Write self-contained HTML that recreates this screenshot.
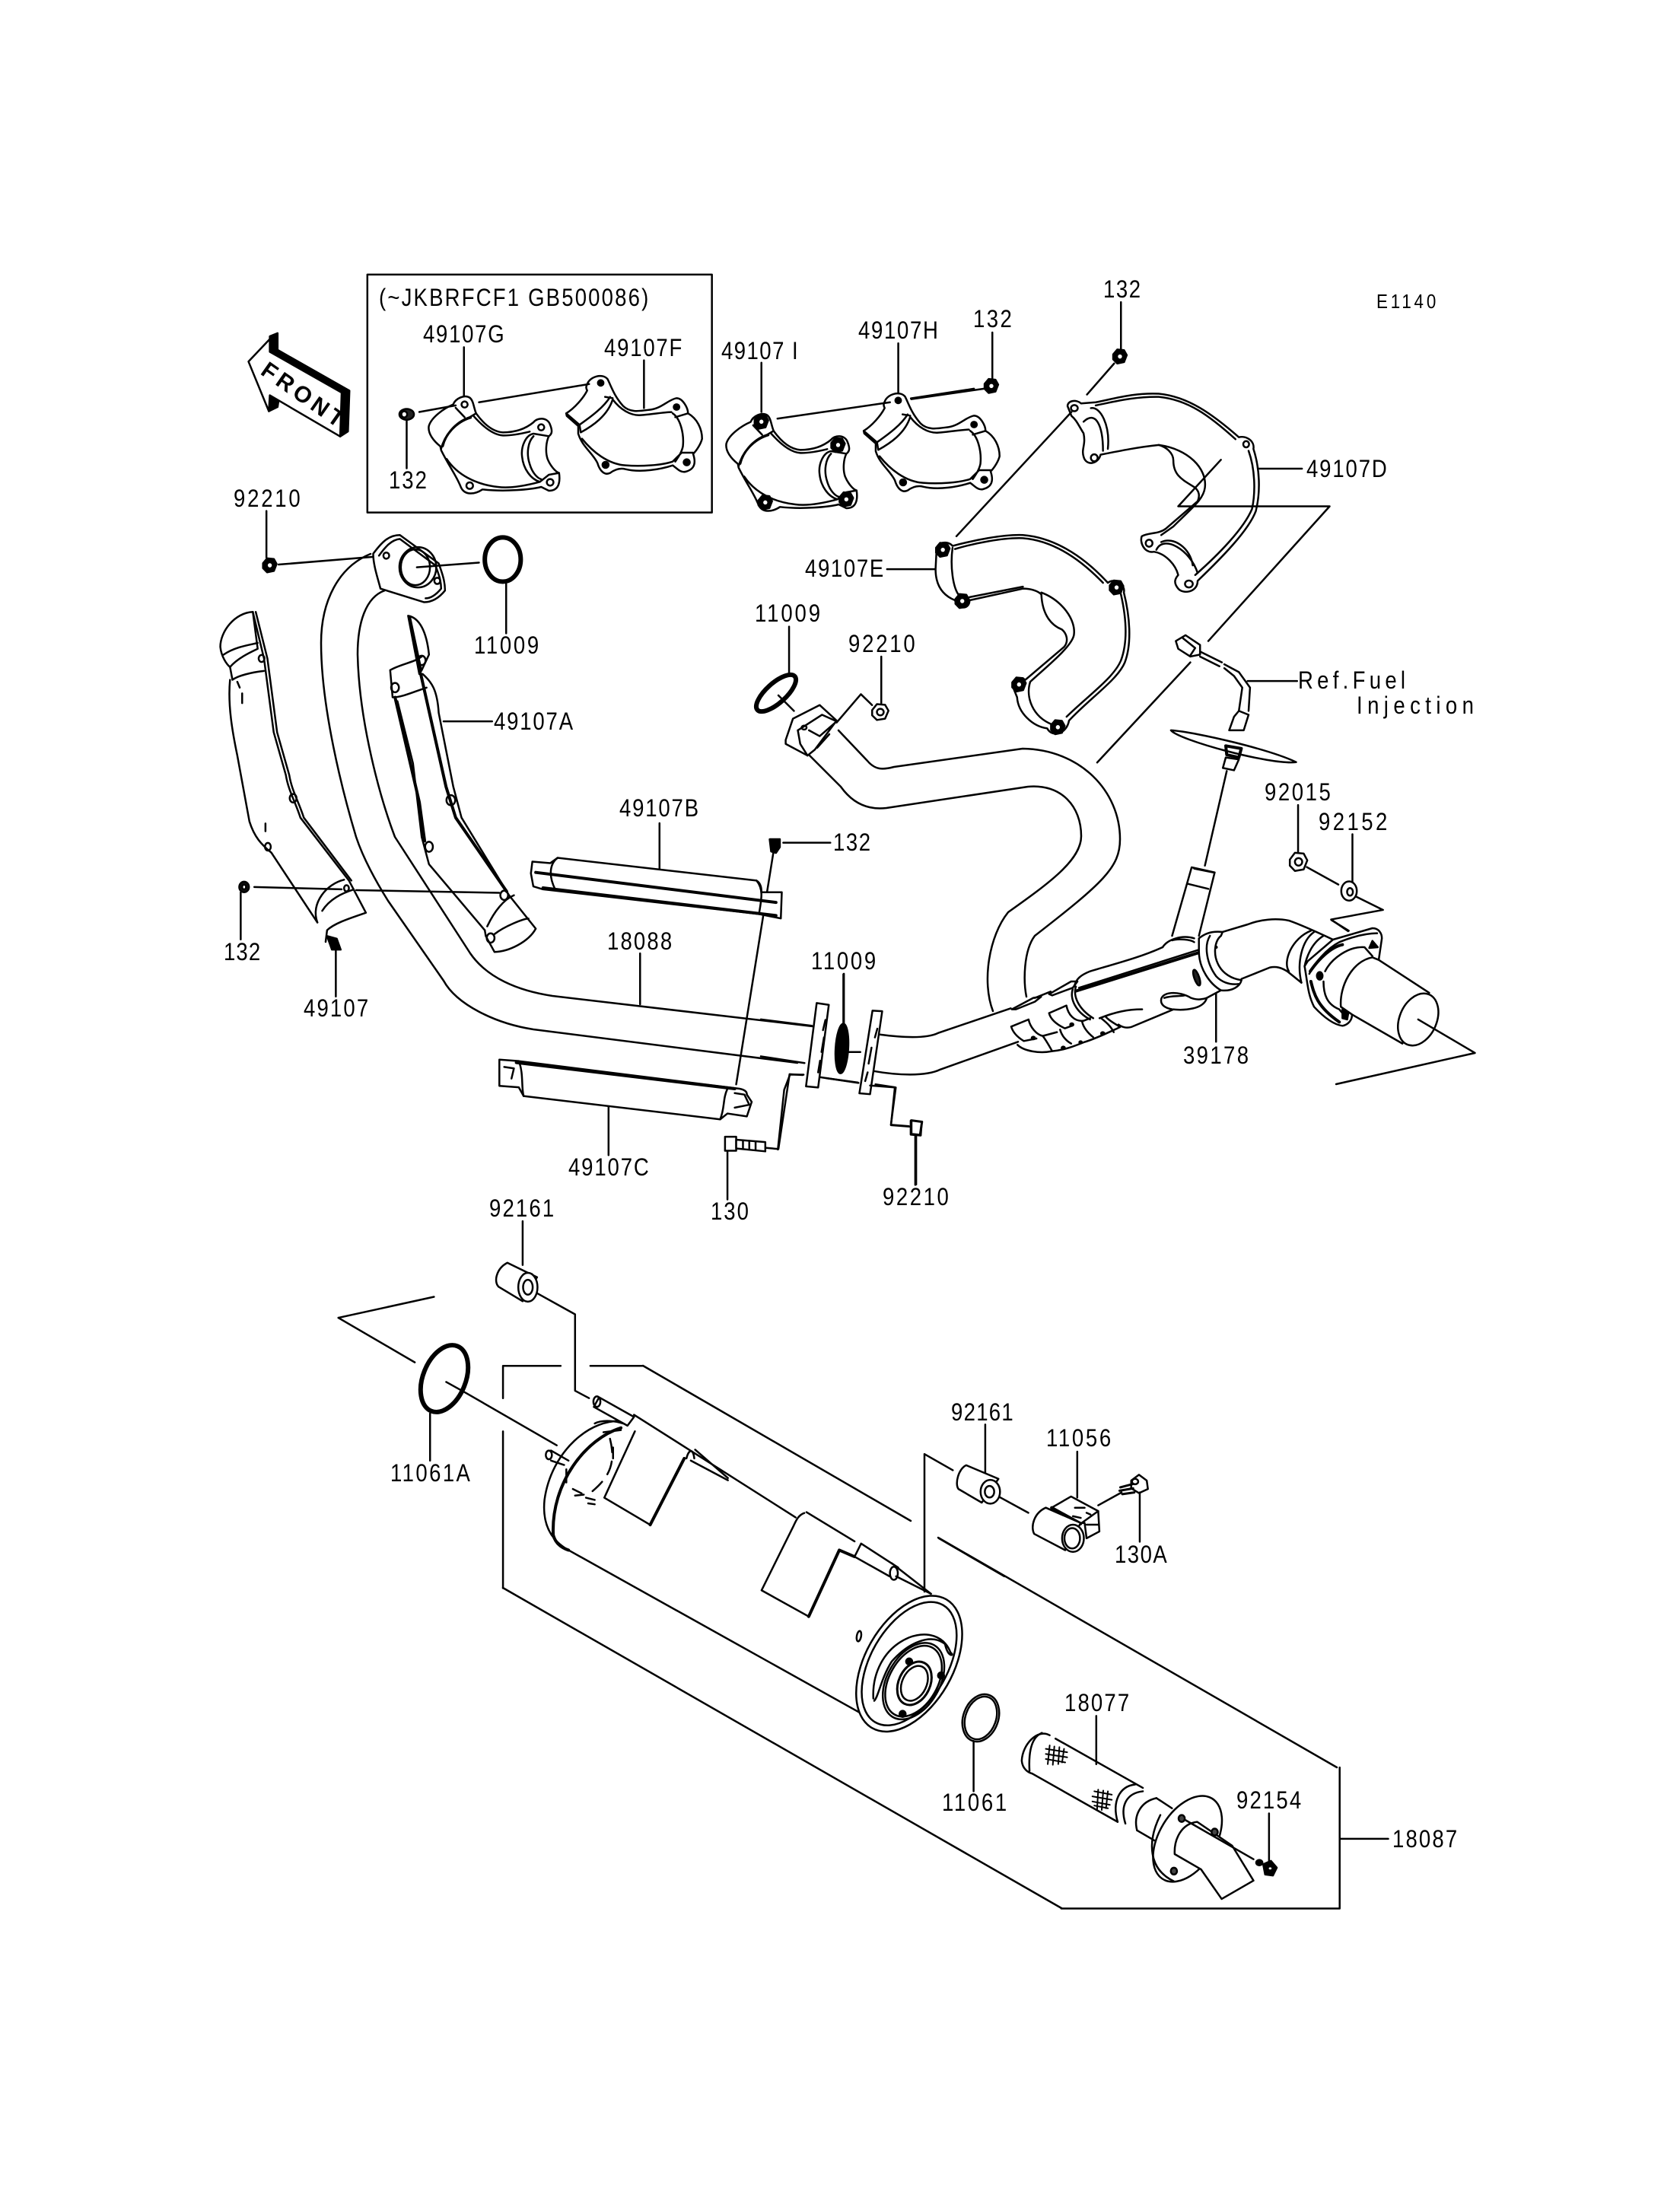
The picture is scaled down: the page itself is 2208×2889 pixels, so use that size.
<!DOCTYPE html>
<html><head><meta charset="utf-8"><title>Exhaust parts diagram</title>
<style>
html,body{margin:0;padding:0;background:#fff}
svg{display:block}
.l *,defs *{vector-effect:non-scaling-stroke}
.l{fill:none;stroke:#000;stroke-width:2.5;stroke-linejoin:round;stroke-linecap:round}
.w{fill:#fff}
.k{fill:#000}
.t{stroke-width:4}
text{font-family:"Liberation Sans",sans-serif;font-size:32px;fill:#000;stroke:none;transform-box:fill-box;transform-origin:0 0;transform:scaleX(.86)}
text.f{transform-box:view-box;transform-origin:0 0;transform:translate(341px,491px) rotate(35deg)}
</style></head><body>
<svg xmlns="http://www.w3.org/2000/svg" width="2208" height="2889" viewBox="0 0 2208 2889">
<defs>
<g id="shG"><path d="M225,155C235,130 270,115 290,128C305,140 305,165 315,190C340,225 375,262 420,265C470,265 510,250 540,225C555,205 595,205 605,235C615,260 612,272 600,280C590,300 585,340 595,370C605,395 625,420 640,425C645,460 640,495 600,495L570,480C530,490 430,500 340,490C310,510 270,515 255,480C240,440 210,400 178,335L175,320C150,300 125,270 130,240C140,205 190,170 225,155Z"/>
<path d="M178,330C190,280 230,225 290,205M185,320C195,275 235,225 295,207M290,205L315,190M235,168L270,205M600,280L540,270C510,275 490,320 495,360C500,410 530,450 565,460M540,280C520,300 510,345 525,390C535,425 555,445 570,450M565,460L600,432L640,425M200,370C240,430 310,470 400,480C450,487 510,475 565,460M305,200C340,240 380,275 420,277C460,278 500,268 525,262"/>
<circle cx="270" cy="155" r="12"/><circle cx="570" cy="245" r="12"/><circle cx="605" cy="462" r="13"/><circle cx="290" cy="475" r="13"/></g>
<g id="shF"><path d="M750,75C760,45 810,30 830,55C845,85 855,120 890,160C920,190 960,180 1000,175C1040,170 1070,135 1100,130C1125,130 1145,170 1145,190C1180,210 1200,250 1200,290C1195,310 1180,335 1165,350C1175,380 1175,410 1135,420C1115,425 1100,405 1085,395C1040,410 960,425 900,410C880,405 860,410 840,425C820,435 800,420 790,385C770,345 730,320 715,270L715,240L670,200L668,190C700,170 735,130 750,100C745,90 745,85 750,75Z"/>
<path d="M668,190L720,235C770,200 815,165 840,125M725,265C770,240 830,200 850,135M720,235L725,265M820,125L850,130M850,135C880,175 920,200 960,197C1000,195 1050,185 1080,185M730,290C770,340 830,390 900,395C960,400 1040,395 1085,380L1120,345L1165,345M1085,190C1115,210 1130,270 1125,320C1120,345 1105,365 1095,380M1095,205L1145,190"/>
<circle cx="803" cy="70" r="11" fill="#000"/><circle cx="1100" cy="165" r="11" fill="#000"/><circle cx="1140" cy="383" r="12" fill="#000"/><circle cx="822" cy="393" r="12" fill="#000"/></g>
<g id="nut"><path class="k" d="M-10,-3L-4,-10L6,-9L10,-2L6,8L-4,10L-10,4Z"/><circle r="3" fill="#fff" stroke="none"/></g>
<g id="nw"><path class="w" d="M-12,-3L-5,-12L7,-11L12,-2L7,10L-5,12L-12,5Z"/><circle r="5"/></g>
</defs>

<g class="l">
<!-- long pipes in page coordinates -->
<path d="M487,728C445,745 422,790 422,845C422,930 450,1040 468,1100C478,1130 495,1160 510,1184L583,1289C600,1320 650,1345 701,1353L1048,1397"/>
<path d="M506,776C480,785 470,820 470,860C472,950 500,1050 519,1100L618,1253C640,1285 680,1302 726,1309L1068,1349"/>
<path d="M1102,960L1140,1000C1150,1012 1160,1012 1175,1008L1344,984C1420,985 1472,1040 1472,1103C1472,1140 1450,1160 1360,1230C1345,1250 1345,1290 1349,1310"/>
<path d="M1064,993L1105,1034C1120,1055 1140,1065 1165,1062L1351,1034C1395,1030 1421,1060 1421,1099C1421,1130 1380,1160 1325,1199C1300,1230 1290,1290 1305,1329"/>
<path d="M661,2087L1395,2508M845,1795L1197,1999M1233,2021L1757,2323"/>
<!-- rings -->
<ellipse cx="1020" cy="911" rx="33" ry="13" transform="rotate(-42 1020 911)" style="stroke-width:6"/>
<ellipse cx="584" cy="1812" rx="28" ry="46" transform="rotate(22 584 1812)" style="stroke-width:6"/>
<ellipse cx="1289" cy="2258" rx="23" ry="32" transform="rotate(20 1289 2258)"/>
<ellipse cx="1289" cy="2258" rx="20" ry="29" transform="rotate(20 1289 2258)"/>
<!-- inset-style shields -->
<g transform="translate(520,480) scale(.3356,.3333)"><use href="#shG"/><use href="#shF"/></g>
<g transform="translate(911,503) scale(.3356,.3333)"><use href="#shG"/><use href="#shF"/></g>
</g>

<!-- Z1 -->
<g class="l" transform="translate(280,340) scale(.6378,.5102)">
<rect x="318" y="41" width="710" height="613"/>
<path class="k" d="M117,200L133,192L133,235L281,340L278,445L262,458L265,345L117,240Z"/>
<path class="k" d="M117,352L135,365L133,382L115,393Z"/>
<path class="w" d="M73,265L117,207L117,240L265,345L262,458L117,352L115,393Z"/>
<path d="M517,228V352M888,262V385M548,370L775,323M425,395L500,378M399,418V540"/>
<ellipse cx="399" cy="401" rx="15" ry="14" fill="#222"/><ellipse cx="394" cy="401" rx="6" ry="8" fill="#fff"/>
<path d="M1130,268V395M1412,218V345M1163,412L1395,370M1438,360L1568,335"/>
<g transform="translate(1130,420) scale(1.4,1.8)"><use href="#nut"/></g>
<g transform="translate(1288,480) scale(1.4,1.8)"><use href="#nut"/></g>
<g transform="translate(1305,620) scale(1.4,1.8)"><use href="#nut"/></g>
<g transform="translate(1138,628) scale(1.4,1.8)"><use href="#nut"/></g>
<!-- flange and ring -->
<path class="w" d="M330,760C345,735 360,712 385,712L465,785C472,810 478,830 478,855C465,875 450,885 435,885L345,850C340,825 330,790 330,760Z"/>
<path d="M342,765C355,742 368,724 385,722L458,790C465,812 470,830 470,850C460,865 450,875 438,875"/>
<ellipse cx="422" cy="795" rx="38" ry="52"/><ellipse cx="417" cy="795" rx="30" ry="46"/>
<ellipse cx="357" cy="765" rx="6" ry="8"/><ellipse cx="462" cy="830" rx="6" ry="8"/>
<path d="M110,650V770M135,788L330,768M420,795L548,783M604,838V965"/>
<g transform="translate(117,790) scale(1.4,1.8)"><use href="#nut"/></g>
<ellipse cx="597" cy="775" rx="37" ry="57" style="stroke-width:6"/>
<!-- left shield -->
<path d="M82,910C45,912 15,960 15,1000C17,1025 28,1045 35,1052C50,1030 75,1015 92,1005L82,910"/>
<path d="M35,1052L40,1085C50,1075 80,1065 105,1062M22,1020C45,1000 75,995 92,990"/>
<path d="M35,1085C30,1150 40,1220 50,1280L75,1450C85,1490 100,1510 120,1530L215,1710"/>
<path d="M82,910L105,1030L125,1220L150,1330C155,1370 170,1400 180,1440L280,1602L315,1685C280,1700 250,1712 235,1730L232,1760"/>
<path d="M88,910L112,1030L132,1220L157,1330C162,1370 177,1400 187,1440L285,1602"/>
<path d="M215,1710C200,1660 235,1610 270,1600M225,1680C240,1650 265,1635 290,1625"/>
<path class="k" d="M235,1745L255,1752L263,1780L245,1780Z"/>
<ellipse cx="100" cy="1030" rx="6" ry="9"/><ellipse cx="165" cy="1390" rx="7" ry="11"/><ellipse cx="113" cy="1515" rx="6" ry="10"/><ellipse cx="275" cy="1622" rx="5" ry="8"/>
<path d="M60,1120V1145M50,1090L55,1105M108,1455V1475"/>
<!-- shield A -->
<path d="M402,920C425,925 440,960 445,1020L430,1060L425,1070L402,920"/>
<path d="M365,1060C385,1045 415,1040 430,1025M365,1060L370,1130C390,1130 415,1115 440,1105"/>
<path d="M380,1140L412,1300L430,1490L445,1560L560,1730"/>
<path d="M432,1070C450,1090 462,1110 465,1170L495,1360L512,1440L610,1640L665,1726C650,1760 610,1785 580,1786L562,1745L560,1730"/>
<path class="t" d="M428,1070L480,1360L500,1440L605,1630M375,1130L425,1400L436,1500M405,925L428,1060"/>
<path d="M565,1720C580,1680 600,1650 620,1640M580,1740C600,1720 640,1700 650,1700"/>
<ellipse cx="430" cy="1035" rx="8" ry="12"/><ellipse cx="375" cy="1105" rx="8" ry="12"/><ellipse cx="490" cy="1395" rx="9" ry="13"/><ellipse cx="445" cy="1515" rx="8" ry="13"/><ellipse cx="600" cy="1640" rx="8" ry="12"/><ellipse cx="572" cy="1750" rx="8" ry="12"/>
<path d="M475,1192H575"/>
<!-- connector -->
<path class="w" d="M1180,1240L1195,1185L1250,1150L1285,1190L1240,1265L1225,1280L1180,1250Z"/>
<path d="M1205,1215L1255,1175L1285,1192L1250,1230L1228,1215M1205,1215L1210,1250L1225,1280M1245,1260L1270,1225"/>
<circle cx="1218" cy="1208" r="5"/>
<path d="M1187,948V1070M1165,1125L1197,1165M1285,1195L1335,1122L1358,1150M1377,1025V1145"/>
<g transform="translate(1375,1168) scale(1.4,1.7)"><use href="#nw"/></g>
</g>

<!-- Z2 -->
<g class="l" transform="translate(1000,340) scale(.6378,.5102)">
<path d="M742,112V235M728,270L672,350M640,395L403,715M1115,541H1025M260,800H358M477,190V315M948,518L860,638H1172L922,985M885,1040L693,1298"/>
<g transform="translate(740,252) scale(1.4,1.8)"><use href="#nut"/></g>
<g transform="translate(475,328) scale(1.4,1.8)"><use href="#nut"/></g>
<path d="M310,362L460,335"/>
<!-- shield D -->
<path d="M632,380C632,365 650,362 660,373L690,370C730,360 770,345 820,348C880,355 930,400 985,460C1000,455 1018,470 1015,490C1028,540 1030,600 1020,650C1005,700 950,770 900,830C900,860 870,865 860,850C850,835 853,825 860,815C855,790 835,760 810,755C790,760 780,730 785,715C800,705 820,710 835,695L900,625C905,610 903,600 895,590C870,570 850,560 850,520C850,500 835,485 820,480C780,485 740,495 700,505C695,530 670,535 665,510C660,490 670,480 665,450C655,430 650,415 640,405Z"/>
<path d="M690,378C730,368 770,355 820,356C880,363 925,405 978,465M1005,495C1018,540 1020,600 1012,645C995,695 945,760 895,815M680,385C700,380 720,430 715,490M665,420C690,390 705,430 705,495M815,750C830,710 885,750 900,810M825,730C850,715 885,745 890,790M820,480C880,490 920,540 915,590C912,620 890,640 850,690L825,712"/>
<ellipse cx="646" cy="385" rx="7" ry="8"/><ellipse cx="1000" cy="478" rx="6" ry="8"/><ellipse cx="687" cy="513" rx="7" ry="9"/><ellipse cx="800" cy="733" rx="7" ry="9"/><ellipse cx="882" cy="838" rx="8" ry="9"/>
<!-- shield E -->
<path d="M362,750C362,730 385,725 395,740C440,725 500,710 540,712C600,718 660,760 715,835C730,820 752,840 748,860C760,920 765,990 750,1040C735,1085 680,1130 635,1190C630,1225 600,1235 590,1210C560,1205 530,1170 528,1130L520,1105C520,1085 535,1075 545,1085L625,1000C635,985 630,965 620,955C600,945 580,920 578,865C570,855 555,850 540,850L430,880C430,905 405,905 400,880C370,865 360,835 360,800Z"/>
<path d="M395,745C390,790 395,850 410,870M578,860C620,880 650,930 645,970C640,1000 590,1050 555,1090C545,1130 560,1180 600,1200M400,748C440,733 500,718 540,720C600,726 655,770 705,835M742,865C752,920 757,985 742,1035C727,1080 675,1125 630,1180M430,872L540,845"/>
<g transform="translate(375,750) scale(1.4,1.8)"><use href="#nut"/></g>
<g transform="translate(415,882) scale(1.4,1.8)"><use href="#nut"/></g>
<g transform="translate(733,847) scale(1.4,1.8)"><use href="#nut"/></g>
<g transform="translate(532,1097) scale(1.4,1.8)"><use href="#nut"/></g>
<g transform="translate(612,1207) scale(1.4,1.8)"><use href="#nut"/></g>
<!-- sensor -->
<path class="w" d="M855,985L875,970L905,995L905,1020L885,1025L860,1005Z"/>
<path d="M870,978L895,1003L885,1022M905,1012L950,1040M905,1025L945,1050M955,1045L985,1065L1008,1105L1005,1165M955,1055L975,1075L992,1105L985,1165M985,1165L1005,1175L995,1215L965,1215L975,1180L985,1165M1003,1088H1105"/>
<path class="w" d="M845,1215C900,1220 1050,1265 1103,1297C1050,1305 860,1240 845,1215Z"/>
<path class="t" d="M958,1255L990,1262L985,1285L960,1278Z"/>
<path class="w" d="M958,1285L985,1290L975,1318L952,1312Z"/>
</g>

<!-- Z3 -->
<g class="l" transform="translate(280,1100) scale(.6378,.3827)">
<path d="M920,-47V110M880,400V575M1300,470V640M815,925V1093M253,380V548M57,190V352M85,172L265,180M295,183L590,192M1155,50L1078,850M1175,20H1272"/>
<ellipse cx="64" cy="172" rx="10" ry="18" fill="#111"/><ellipse cx="64" cy="172" rx="4" ry="8" fill="#fff"/>
<path class="k" d="M1147,8H1168V35L1160,55L1150,50Z"/>
<!-- 49107B -->
<path class="w" d="M658,85L695,90L710,72L1120,150C1130,160 1130,180 1130,190L1172,190L1170,280L1125,265L680,180L660,170L655,125Z"/>
<path d="M710,72C695,90 690,130 705,180M1120,150C1135,180 1130,215 1125,265"/>
<path class="t" d="M665,122L1160,225M680,175L1160,270"/>
<!-- 49107C -->
<path class="w" d="M590,765L630,770L1085,865C1100,870 1100,880 1100,885L1110,910L1100,960L1060,950L1045,970L640,890L630,860L590,855Z"/>
<path class="t" d="M625,775L1075,865"/>
<path d="M630,770C640,810 635,860 640,890M1060,865C1050,900 1055,930 1045,970M600,790L620,795L615,830M1075,880L1095,885L1105,920L1075,930"/>
<!-- bolt -->
<path class="w" d="M1055,1030H1078V1078H1055Z"/>
<path class="w" d="M1078,1040L1138,1048V1080L1078,1070Z"/>
<path d="M1092,1042V1072M1105,1044V1074M1118,1046V1076"/>
<path d="M1215,818L1188,815L1165,1072L1140,1068M1250,825L1330,845M1365,850L1405,860L1397,990L1435,995M1447,1025V1195M1060,1080V1245M638,1320V1470"/>
<path class="w" d="M1438,975L1460,980L1458,1025L1438,1022Z" style="stroke-width:3"/>
</g>

<!-- Z4 -->
<g class="l" transform="translate(1000,1000) scale(.6378,.3827)">
<path d="M0,888L105,910M0,1015L90,1038M245,940C290,950 340,955 365,935L515,850M230,1065C280,1080 340,1085 370,1060L530,965M135,1090L200,1105M178,1000H205"/>
<path class="w" d="M115,832L140,838L118,1122L93,1118Z"/>
<path class="w" d="M230,858L250,860L225,1145L203,1142Z"/>
<path d="M133,890L128,925M130,950L125,1000M122,1030L118,1070M240,920L235,950M228,985L222,1040M220,1070L215,1100"/>
<ellipse cx="167" cy="988" rx="13" ry="85" class="k" transform="rotate(2 167 988)"/>
<path d="M35,1335L48,1130L60,1078H88M225,1115L278,1122L268,1250L305,1255M320,1290V1455"/>
<path class="w" d="M310,1235L332,1240L328,1285L310,1282Z" style="stroke-width:3"/>
<path d="M170,733V905M938,800V965M1107,152V320M1219,252V415M1125,365L1190,425M1225,465L1282,512L1175,545L1210,585M960,35L915,360"/>
<!-- washers -->
<g transform="translate(1108,347) scale(1.5,2.6)"><use href="#nw"/></g>
<ellipse cx="1212" cy="447" rx="16" ry="33" class="w"/><ellipse cx="1214" cy="450" rx="6" ry="13"/>
</g>

<!-- Z7: collector / 39178 -->
<g class="l" transform="translate(1300,1130) scale(.4146,.3333)">
<path d="M642,30L715,50L665,300M642,30L580,300"/>
<path d="M650,35L710,50M630,95L695,115M550,345C565,315 610,295 650,310M580,318C600,310 640,315 650,325"/>
<path d="M270,500C275,470 290,455 320,440C400,410 480,385 550,345"/>
<path class="t" d="M275,518L720,345"/>
<path d="M285,505L665,355"/>
<path class="w" d="M665,310C680,295 700,280 740,285L735,300C715,320 710,370 725,410C740,450 770,470 800,475C795,500 770,520 735,515C700,490 665,430 665,360Z"/>
<path d="M700,300C680,340 690,410 720,460C735,480 760,495 790,490"/>
<path d="M740,285L820,255C860,235 910,230 950,240C985,255 1030,280 1090,315M800,470L890,425C910,420 925,425 945,440L990,485"/>
<path d="M1020,280C960,310 930,400 950,440M1030,285C990,320 975,410 990,485M1060,300C1020,330 1005,390 1000,420"/>
<!-- flange -->
<path class="w" d="M1090,315L1215,270C1235,270 1245,290 1245,310L1235,395L1150,615C1150,630 1140,650 1120,655C1090,650 1060,620 1030,580C1010,530 1010,490 1000,420L1010,400Z"/>
<path d="M1015,450C1030,410 1070,350 1110,325C1150,305 1190,290 1230,290"/>
<path class="t" d="M1020,480C1030,530 1040,580 1110,640M1018,440C1040,400 1080,345 1120,335"/>
<path d="M1065,440C1085,390 1140,340 1190,345L1215,380M1060,480C1060,530 1070,570 1110,590L1130,620"/>
<ellipse cx="1048" cy="458" rx="9" ry="15" class="k"/>
<path class="k" d="M1215,320L1232,345L1205,348Z"/>
<path class="k" d="M1120,590L1140,595L1135,630L1120,625Z"/>
<path class="w" d="M1215,385C1150,400 1110,500 1115,580L1150,610L1310,725L1395,525L1235,395Z"/>
<ellipse cx="1360" cy="630" rx="60" ry="105" class="w" transform="rotate(15 1360 630)"/>
<path d="M1360,630L1540,762L1100,885M1085,238L1140,280"/>
<!-- lower body -->
<path d="M690,545L735,515"/>
<path d="M545,555C545,520 600,515 640,545C660,555 680,550 690,545C680,590 620,595 580,590C560,585 545,575 545,555ZM555,545C580,535 600,540 620,535"/>
<ellipse cx="658" cy="465" rx="8" ry="32" fill="#222" transform="rotate(-15 658 465)"/>
<path d="M585,590L450,660C435,665 420,660 410,650M485,590C440,590 400,600 350,625"/>
<!-- clips -->
<path d="M190,605L245,575C250,610 270,640 300,635L320,625M190,605C195,630 215,650 240,665L262,655"/>
<path d="M70,658L125,630C130,660 150,690 170,695L215,680M70,658C75,680 90,700 110,715L150,705"/>
<path d="M170,695C185,720 195,745 200,755M90,730C110,755 160,765 200,755C240,750 270,735 300,720C340,705 380,680 415,660M225,670C230,695 245,715 260,725M295,640C300,665 315,685 330,700M355,625C370,640 385,655 395,680M370,620C385,640 405,650 415,660"/>
<path d="M265,510C255,550 275,600 320,630M275,500C265,540 285,590 330,625"/>
<circle cx="140" cy="703" r="5" class="k"/><circle cx="262" cy="650" r="5" class="k"/><circle cx="235" cy="742" r="5" class="k"/><circle cx="360" cy="685" r="5" class="k"/><circle cx="290" cy="720" r="4" class="k"/>
<path d="M72,590L140,545L165,540L145,560L85,590ZM190,530L260,480L280,480L265,505L200,535Z"/>
<path d="M145,545L195,520"/>
</g>

<!-- Z5 -->
<g class="l" transform="translate(420,1650) scale(.574)">
<path d="M43,143L262,95M43,143L218,245M290,290L335,315L543,435M253,362V470M495,85L585,135V310L617,327M552,253H420V327M420,403V762M620,253H740"/>
<path class="w" d="M430,17L498,50L465,105L410,72C398,60 405,30 430,17Z"/>
<ellipse cx="477" cy="73" rx="22" ry="33" class="w"/><ellipse cx="477" cy="73" rx="11" ry="17"/>
<!-- muffler -->
<path d="M720,365L1090,600M1115,588L1225,655M570,675L1260,1060M1310,705L1400,775"/>
<path d="M700,380C620,370 530,450 515,560C510,610 525,650 570,675"/>
<path class="t" d="M690,395C610,420 530,520 535,640C540,660 555,670 570,675"/>
<path d="M630,385C650,375 680,380 695,385"/>
<path class="w" d="M640,325L720,370L705,390L628,347Z"/><ellipse cx="635" cy="335" rx="8" ry="12"/>
<path d="M722,403L652,555L757,617"/>
<path class="t" d="M757,617L835,465"/>
<path d="M840,465C845,445 855,440 858,465M860,445L935,510M850,470L935,515"/>
<path stroke-dasharray="18 12" d="M665,420C680,480 660,510 625,540"/>
<path d="M580,535L600,545M585,550L605,548M610,555L630,560M615,568L630,570M672,440V465M650,405L690,400"/>
<ellipse cx="525" cy="457" rx="7" ry="10"/>
<path d="M530,447L570,470M530,470L560,480M565,490V520"/>
<path d="M1110,590C1095,595 1090,610 1085,620L1012,767L1120,827"/>
<path class="t" d="M1120,827L1190,675L1225,690"/>
<path class="w" d="M1240,660L1325,715L1305,735L1225,690Z"/><ellipse cx="1315" cy="728" rx="9" ry="15" class="w"/>
<path d="M1320,735L1400,775M1385,770V455L1450,492M1418,648L1568,735"/>
<ellipse cx="1235" cy="872" rx="5" ry="12" transform="rotate(10 1235 872)"/>
<ellipse cx="1350" cy="935" rx="100" ry="170" class="w" transform="rotate(30 1350 935)"/>
<ellipse cx="1350" cy="935" rx="88" ry="155" transform="rotate(30 1350 935)"/>
<path d="M1268,1015C1265,960 1290,900 1350,875C1390,860 1430,870 1445,910C1455,915 1440,925 1432,890C1400,865 1350,885 1310,930C1285,970 1280,1010 1270,1020"/>
<ellipse cx="1360" cy="975" rx="60" ry="95" transform="rotate(30 1360 975)"/>
<ellipse cx="1360" cy="975" rx="55" ry="88" transform="rotate(30 1360 975)"/>
<ellipse cx="1362" cy="980" rx="36" ry="52" transform="rotate(25 1362 980)" style="stroke-width:3"/>
<ellipse cx="1362" cy="980" rx="28" ry="42" transform="rotate(25 1362 980)"/>
<circle cx="1350" cy="930" r="7" class="k"/><circle cx="1423" cy="962" r="7" class="k"/><circle cx="1335" cy="1050" r="7" class="k"/>
</g>

<!-- Z6 -->
<g class="l" transform="translate(1150,1850) scale(.5102,.4464)">
<path d="M284,50V195M315,260L395,310M521,130V265M575,288L635,250M682,250V395M254,982V1130M570,908V1050M1015,1195V1340M1197,1060V1475H480M1197,1270H1322"/>
<path class="w" d="M235,170L318,210L275,280L215,240C205,225 215,180 235,170Z"/>
<ellipse cx="297" cy="248" rx="25" ry="35" class="w"/><ellipse cx="295" cy="248" rx="12" ry="17"/>
<!-- bracket -->
<path class="w" d="M455,295L505,262L575,305L578,365L545,385L540,340L520,340Z"/>
<path class="t" d="M455,295L530,342"/>
<path d="M530,342L575,305M545,345L575,345M515,295L540,295M510,320L530,325M545,310L555,315"/>
<path class="w" d="M440,295L530,340L490,420L410,372C400,350 410,310 440,295Z"/>
<ellipse cx="510" cy="385" rx="28" ry="40" class="w"/><ellipse cx="508" cy="385" rx="20" ry="30"/>
<!-- bolt 130A -->
<path d="M660,215L680,198L700,215L703,240L680,252L660,238Z"/><circle cx="670" cy="218" r="8"/>
<path style="stroke-width:3" d="M632,235L665,225M630,245L665,238M637,255L668,250"/>
<!-- tailpipe -->
<path d="M465,975L690,1120M405,1078L625,1220M725,1150L765,1180M675,1245L720,1275"/>
<path d="M450,965C420,945 380,990 378,1040C380,1065 395,1075 405,1078M430,958C405,970 395,1010 398,1070"/>
<path d="M670,1110C630,1115 610,1160 625,1220M690,1130C650,1135 630,1170 645,1225M725,1150C685,1160 665,1200 675,1245"/>
<path style="stroke-width:2" d="M440,1005L495,1015M440,1020L495,1030M440,1035L490,1045M450,995L445,1050M462,998L458,1052M475,1000L472,1050M487,1005L482,1045"/>
<path style="stroke-width:2" d="M565,1130L610,1140M560,1145L610,1155M560,1160L605,1170M565,1172L600,1180M575,1125L572,1185M588,1128L584,1185M600,1130L595,1180"/>
<ellipse cx="805" cy="1270" rx="75" ry="135" class="w" transform="rotate(25 805 1270)"/>
<path d="M735,1200C700,1280 705,1360 770,1395"/>
<path class="w" d="M830,1220C790,1225 770,1270 772,1315L840,1360L893,1447L975,1393L920,1290Z"/>
<ellipse cx="790" cy="1210" rx="8" ry="10" fill="#444"/><ellipse cx="875" cy="1250" rx="8" ry="10" fill="#444"/><ellipse cx="770" cy="1365" rx="8" ry="10" fill="#444"/>
<path d="M800,1215L975,1330"/>
<circle cx="990" cy="1340" r="8" class="k"/>
<path class="k" d="M1000,1345L1020,1335L1035,1355L1025,1378L1005,1375Z"/><circle cx="1018" cy="1357" r="6" fill="#fff"/>
</g>

<!-- Labels -->
<text x="498" y="402" textLength="412" lengthAdjust="spacing">(~JKBRFCF1 GB500086)</text>
<text x="556" y="450" textLength="124" lengthAdjust="spacing">49107G</text>
<text x="794" y="468" textLength="119" lengthAdjust="spacing">49107F</text>
<text x="511" y="642" textLength="58" lengthAdjust="spacing">132</text>
<text x="307" y="666" textLength="102" lengthAdjust="spacing">92210</text>
<text x="623" y="859" textLength="99" lengthAdjust="spacing">11009</text>
<text x="948" y="472" textLength="117" lengthAdjust="spacing">49107 I</text>
<text x="1128" y="445" textLength="122" lengthAdjust="spacing">49107H</text>
<text x="1058" y="758" textLength="120" lengthAdjust="spacing">49107E</text>
<text x="992" y="817" textLength="100" lengthAdjust="spacing">11009</text>
<text x="1115" y="857" textLength="102" lengthAdjust="spacing">92210</text>
<text x="649" y="959" textLength="121" lengthAdjust="spacing">49107A</text>
<text x="814" y="1073" textLength="121" lengthAdjust="spacing">49107B</text>
<text x="1095" y="1118" textLength="57" lengthAdjust="spacing">132</text>
<text x="1450" y="391" textLength="57" lengthAdjust="spacing">132</text>
<text x="1809" y="405" textLength="91" lengthAdjust="spacing" style="font-size:26px">E1140</text>
<text x="1279" y="430" textLength="59" lengthAdjust="spacing">132</text>
<text x="1717" y="627" textLength="123" lengthAdjust="spacing">49107D</text>
<text x="1706" y="905" textLength="164" lengthAdjust="spacing">Ref.Fuel</text>
<text x="1783" y="938" textLength="179" lengthAdjust="spacing">Injection</text>
<text x="1662" y="1052" textLength="101" lengthAdjust="spacing">92015</text>
<text x="1733" y="1091" textLength="105" lengthAdjust="spacing">92152</text>
<text x="294" y="1262" textLength="56" lengthAdjust="spacing">132</text>
<text x="399" y="1336" textLength="99" lengthAdjust="spacing">49107</text>
<text x="798" y="1248" textLength="99" lengthAdjust="spacing">18088</text>
<text x="1066" y="1274" textLength="99" lengthAdjust="spacing">11009</text>
<text x="747" y="1545" textLength="123" lengthAdjust="spacing">49107C</text>
<text x="643" y="1599" textLength="99" lengthAdjust="spacing">92161</text>
<text x="934" y="1603" textLength="58" lengthAdjust="spacing">130</text>
<text x="1160" y="1584" textLength="101" lengthAdjust="spacing">92210</text>
<text x="1555" y="1398" textLength="100" lengthAdjust="spacing">39178</text>
<text x="513" y="1947" textLength="122" lengthAdjust="spacing">11061A</text>
<text x="1250" y="1867" textLength="95" lengthAdjust="spacing">92161</text>
<text x="1375" y="1901" textLength="99" lengthAdjust="spacing">11056</text>
<text x="1465" y="2054" textLength="80" lengthAdjust="spacing">130A</text>
<text x="1399" y="2249" textLength="99" lengthAdjust="spacing">18077</text>
<text x="1238" y="2380" textLength="99" lengthAdjust="spacing">11061</text>
<text x="1625" y="2377" textLength="99" lengthAdjust="spacing">92154</text>
<text x="1830" y="2428" textLength="99" lengthAdjust="spacing">18087</text>
<text class="f" x="0" y="0" textLength="125" lengthAdjust="spacing" style="font-size:30px;font-weight:bold">FRONT</text>
</svg>
</body></html>
